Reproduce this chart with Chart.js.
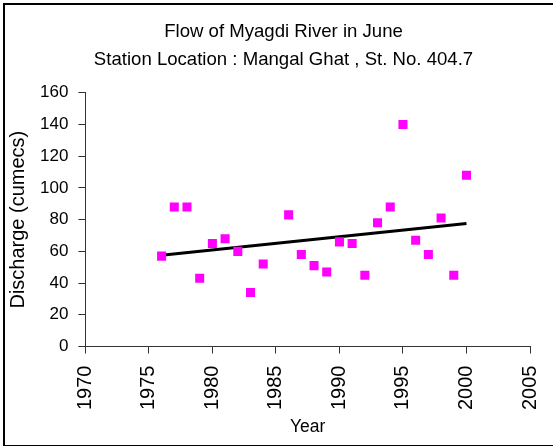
<!DOCTYPE html>
<html>
<head>
<meta charset="utf-8">
<script src="https://cdn.jsdelivr.net/npm/chart.js@4"></script>
<style>
    html, body { margin: 0; padding: 0; background: #fff; }
    #wrap {
        position: absolute;
        left: 3px; top: 3px;
        width: 560px; height: 440px;
        border-left: 2px solid #000;
        border-top: 2px solid #000;
        border-bottom: 2px solid #000;
    }
    #holder { position: absolute; left: 0; top: 0; width: 553px; height: 446px; }
</style>
</head>
<body>
<div id="wrap"></div>
<div id="holder"><canvas id="flowChart" width="553" height="446"></canvas></div>
<script>
const years = [1976, 1977, 1978, 1979, 1980, 1981, 1982, 1983, 1984, 1986, 1987, 1988,
               1989, 1990, 1991, 1992, 1993, 1994, 1995, 1996, 1997, 1998, 1999, 2000];
const discharge = [57, 88, 88, 43, 65, 68, 60, 34, 52, 83, 58, 51,
                   47, 66, 65, 45, 78, 88, 140, 67, 58, 81, 45, 108];
// trend line ends
const trendYears = [1976, 2000];
const trendValues = [57.6, 77.6];

const titleLines = ['Flow of Myagdi River in June', 'Station Location : Mangal Ghat , St. No. 404.7'];

// the excel title sits a bit right of the canvas centre
const shiftTitle = {
    id: 'shiftTitle',
    afterLayout(chart) {
        if (chart.titleBlock) {
            chart.titleBlock.left = 14;
            chart.titleBlock.right = 553;
        }
    }
};

document.addEventListener('DOMContentLoaded', function () {
    const ctx = document.getElementById('flowChart');
    const font = 'Arial, "Liberation Sans", sans-serif';

    new Chart(ctx, {
        type: 'scatter',
        data: {
            datasets: [{
                label: 'Discharge',
                data: years.map((y, i) => ({ x: y, y: discharge[i] })),
                backgroundColor: '#ff00ff',
                borderColor: '#ff00ff',
                borderWidth: 0,
                pointStyle: 'rect',
                pointRadius: 6.4,
                pointHoverRadius: 6.4
            }, {
                type: 'line',
                label: 'Trend',
                data: trendYears.map((y, i) => ({ x: y, y: trendValues[i] })),
                borderColor: '#000',
                borderWidth: 3,
                pointRadius: 0,
                fill: false
            }]
        },
        options: {
            responsive: false,
            animation: false,
            layout: { padding: { left: 6, right: 0, top: 4, bottom: 8 } },
            plugins: {
                legend: { display: false },
                tooltip: { enabled: false },
                title: {
                    display: true,
                    text: titleLines,
                    color: '#000',
                    font: { family: font, size: 18.6, weight: 'normal', lineHeight: 1.5 },
                    padding: { top: 14, bottom: 19 }
                }
            },
            scales: {
                x: {
                    type: 'linear',
                    min: 1970,
                    max: 2005,
                    ticks: {
                        stepSize: 5,
                        color: '#000',
                        font: { family: font, size: 20, lineHeight: 0.55 },
                        minRotation: 90,
                        maxRotation: 90,
                        padding: 12,
                        callback: v => String(v)
                    },
                    grid: { drawOnChartArea: false, drawTicks: true, tickLength: 7, color: '#333' },
                    border: { color: '#333', width: 1 },
                    title: {
                        display: true,
                        text: 'Year',
                        color: '#000',
                        font: { family: font, size: 17.5 },
                        padding: { top: -5, bottom: 0 }
                    }
                },
                y: {
                    min: 0,
                    max: 160,
                    ticks: {
                        stepSize: 20,
                        color: '#000',
                        font: { family: font, size: 17 },
                        padding: 10
                    },
                    grid: { drawOnChartArea: false, drawTicks: true, tickLength: 7, color: '#333' },
                    border: { color: '#333', width: 1 },
                    title: {
                        display: true,
                        text: 'Discharge (cumecs)',
                        color: '#000',
                        font: { family: font, size: 20 },
                        padding: { top: 0, bottom: 0 }
                    }
                }
            }
        },
        plugins: [shiftTitle]
    });
});
</script>
</body>
</html>
